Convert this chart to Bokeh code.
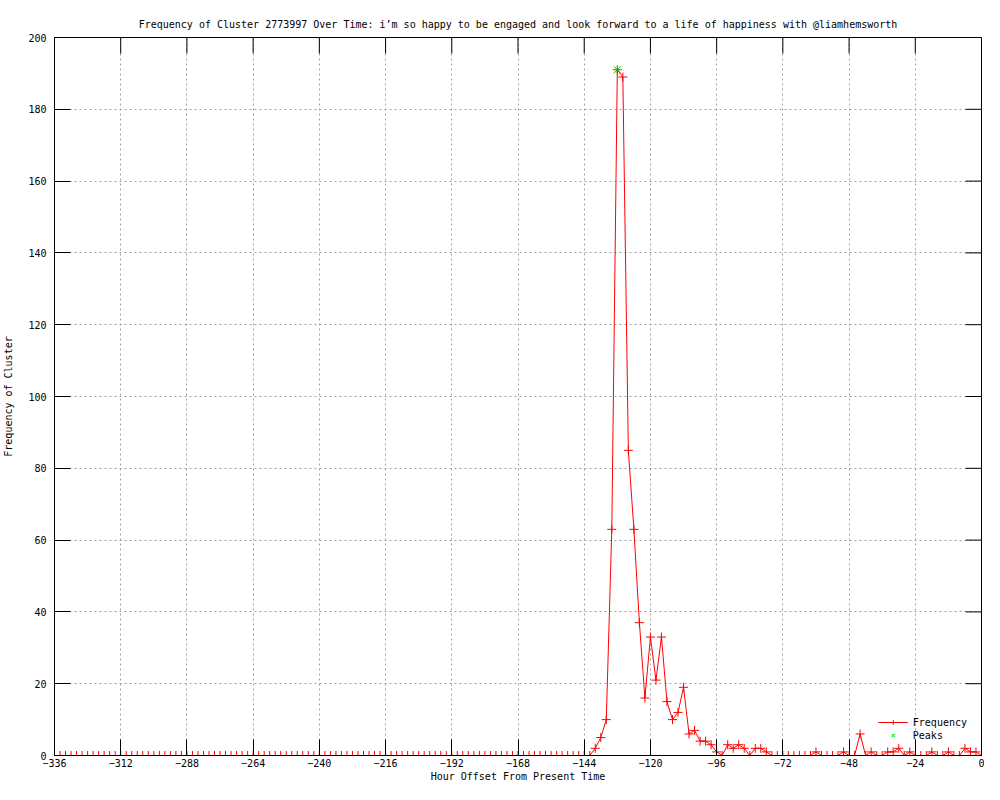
import math
from bokeh.plotting import figure
from bokeh.models import Range1d, FixedTicker, Legend, LegendItem, ColumnDataSource
from bokeh.embed import file_html
from bokeh.resources import INLINE

# ---- data ----
hours = list(range(-336, 1, 2))  # 2-hour bins from -336 to 0
freq = (
    [0] * 97 +                      # -336 .. -144
    [0,                             # -142
     2, 5, 10, 63, 191, 189, 85, 63, 37, 16,       # -140 .. -122
     33, 21, 33, 15, 10, 12, 19, 6, 7, 4,          # -120 .. -102
     4, 3, 1, 0, 3, 2, 3, 2, 0, 2,                 # -100 .. -82
     2, 1, 0, 0, 0, 0, 0, 0, 0, 0,                 # -80 .. -62
     1, 0, 0, 0, 0, 1, 0, 0, 6, 0,                 # -60 .. -42
     1, 0, 0, 1, 1, 2, 0, 1, 0, 0,                 # -40 .. -22
     0, 1, 0, 0, 1, 0, 0, 2, 1, 1,                 # -20 .. -2
     0]                                            # 0
)
peak_hours = [-132]
peak_values = [191]

x_ticks = list(range(-336, 1, 24))
y_ticks = list(range(0, 201, 20))

title_text = ("Frequency of Cluster 2773997 Over Time: i\u2019m so happy to be engaged "
              "and look forward to a life of happiness with @liamhemsworth")

FONT = "DejaVu Sans Mono"
X0, X1, Y0, Y1 = -336, 0, 0, 200

p = figure(width=984, height=784, output_backend="svg", toolbar_location=None,
           x_range=Range1d(X0, X1), y_range=Range1d(Y0, Y1),
           min_border_left=47, min_border_right=3, min_border_top=37,
           min_border_bottom=28)

p.title.text = title_text
p.title.text_font = FONT
p.title.text_font_size = "10px"
p.title.text_font_style = "normal"
p.title.text_color = "black"
p.title.align = "center"
p.title.offset = 0
p.title.standoff = 16

p.outline_line_color = "black"
p.outline_line_width = 1
p.background_fill_color = "white"
p.border_fill_color = "white"

for ax in (p.xaxis[0], p.yaxis[0]):
    ax.major_label_text_font = FONT
    ax.major_label_text_font_size = "10px"
    ax.major_label_text_color = "black"
    ax.axis_label_text_font = FONT
    ax.axis_label_text_font_size = "10px"
    ax.axis_label_text_font_style = "normal"
    ax.axis_label_text_color = "black"
    ax.major_tick_in = 16
    ax.major_tick_out = 0
    ax.minor_tick_in = 0
    ax.minor_tick_out = 0
    ax.axis_line_color = "black"
    ax.major_tick_line_color = "black"

p.xaxis[0].ticker = FixedTicker(ticks=x_ticks)
p.yaxis[0].ticker = FixedTicker(ticks=y_ticks)
p.xaxis[0].axis_label = "Hour Offset From Present Time"
p.yaxis[0].axis_label = "Frequency of Cluster"
p.xaxis[0].major_label_standoff = 3
p.xaxis[0].axis_label_standoff = 1
p.yaxis[0].major_label_standoff = 8
p.yaxis[0].axis_label_standoff = 11

for g in (p.xgrid[0], p.ygrid[0]):
    g.grid_line_color = "#a0a0a0"
    g.grid_line_dash = "2 3"
    g.grid_line_width = 1
p.xgrid[0].ticker = FixedTicker(ticks=x_ticks)
p.ygrid[0].ticker = FixedTicker(ticks=y_ticks)

# mirrored inward ticks on top and right border (screen-length rays)
p.ray(x=x_ticks, y=[Y1] * len(x_ticks), length=16, length_units="screen",
      angle=-math.pi / 2, line_color="black", line_width=1)
p.ray(x=[X1] * len(y_ticks), y=y_ticks, length=16, length_units="screen",
      angle=math.pi, line_color="black", line_width=1)

src = ColumnDataSource(dict(x=hours, y=freq))
ln = p.line("x", "y", source=src, line_color="#ff0000", line_width=1)
mk = p.scatter("x", "y", source=src, marker="cross", size=9,
               line_color="#ff0000", line_width=1)
pk = p.scatter(peak_hours, peak_values, marker="x", size=10,
               line_color="#00c000", line_width=1)

legend = Legend(items=[LegendItem(label="Frequency", renderers=[ln, mk]),
                       LegendItem(label="Peaks", renderers=[pk])],
                location="bottom_right")
legend.label_text_font = FONT
legend.label_text_font_size = "10px"
legend.label_text_color = "black"
legend.background_fill_alpha = 0
legend.border_line_alpha = 0
legend.glyph_width = 30
legend.glyph_height = 12
legend.label_height = 12
legend.spacing = 1
legend.padding = 4
legend.margin = 10
p.add_layout(legend)

open("out.html", "w").write(file_html(p, INLINE))
